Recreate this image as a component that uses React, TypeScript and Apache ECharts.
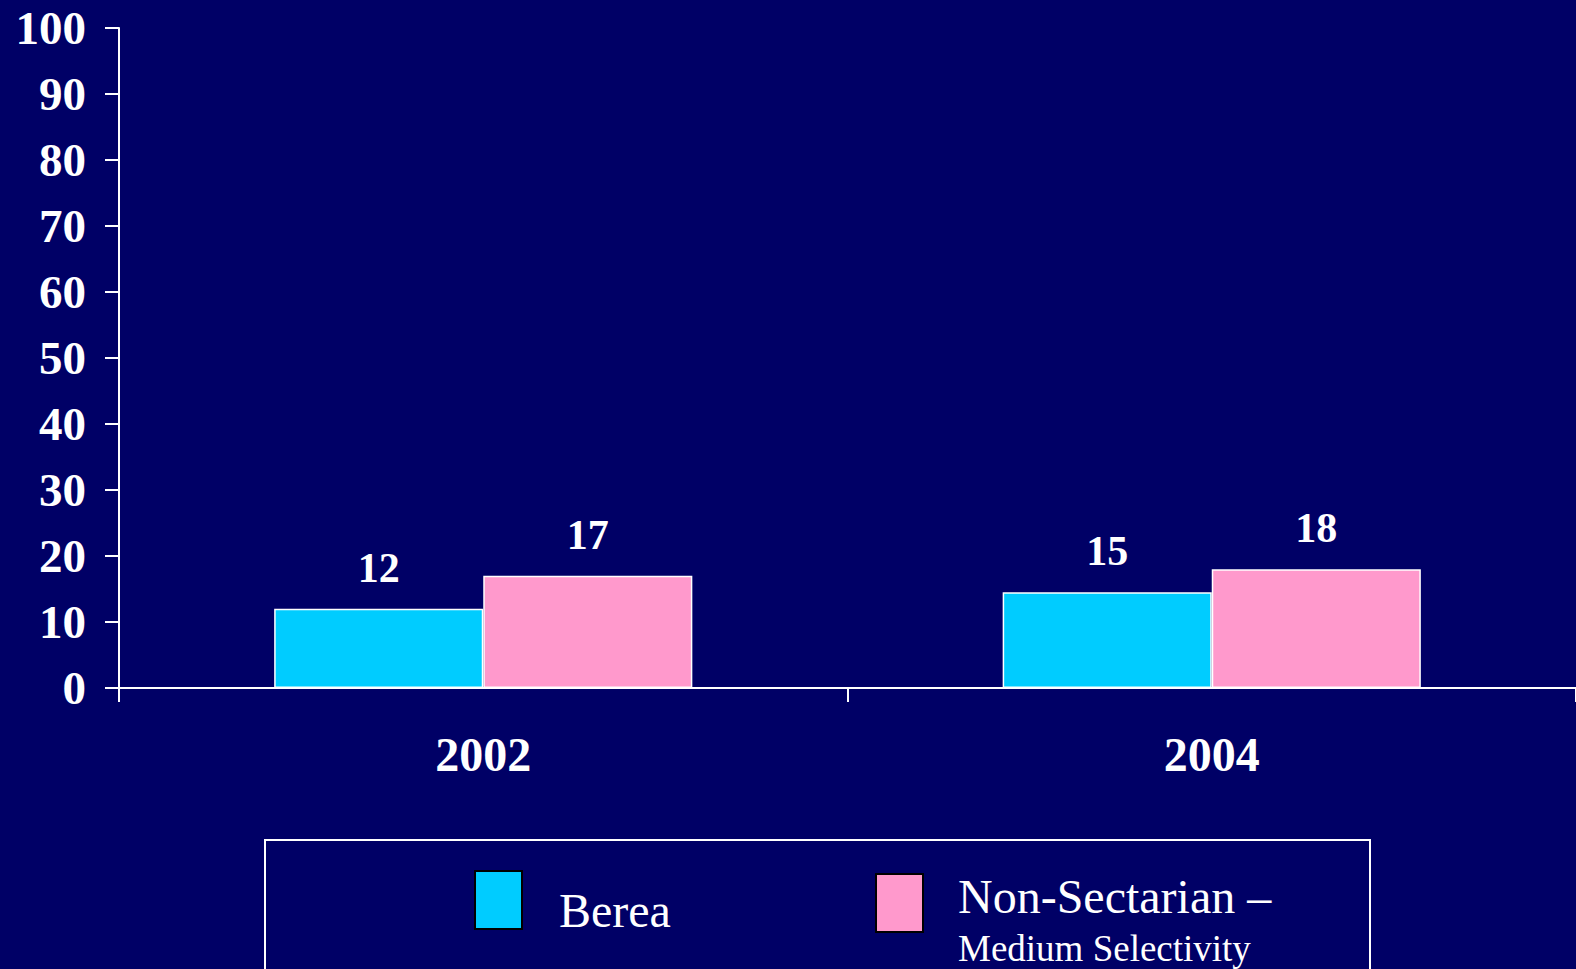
import React, { useEffect, useRef } from "react";
import * as echarts from "echarts";

const categories = ["2002", "2004"];
const bereaValues = [12, 14.5];
const nonSectarianValues = [17, 18];
const seriesNames = ["Berea", "Non-Sectarian – Medium Selectivity"];
const yTicks = { min: 0, max: 100, interval: 10 };

const BG = "#000066";
const CYAN = "#00CCFF";
const PINK = "#FF99CC";
const FONT = "'Liberation Serif', 'Times New Roman', serif";

export default function App() {
  const ref = useRef<HTMLDivElement>(null);
  useEffect(() => {
    document.body.style.margin = "0";
    const chart = echarts.init(ref.current!, null, { renderer: "svg" });
    const labelCfg = {
      show: true,
      position: "top",
      distance: 20,
      color: "#fff",
      fontFamily: FONT,
      fontWeight: "bold",
      fontSize: 42,
      formatter: (p: any) => String(Math.round(p.value)),
    };
    chart.setOption({
      animation: false,
      backgroundColor: BG,
      textStyle: { fontFamily: FONT },
      grid: { left: 119, top: 28, right: 0, bottom: 281, containLabel: false },
      xAxis: {
        type: "category",
        data: categories,
        axisLine: { lineStyle: { color: "#fff", width: 2 } },
        axisTick: { show: true, length: 14, lineStyle: { color: "#fff", width: 2 } },
        axisLabel: {
          color: "#fff",
          fontFamily: FONT,
          fontWeight: "bold",
          fontSize: 48,
          margin: 42,
        },
      },
      yAxis: {
        type: "value",
        min: yTicks.min,
        max: yTicks.max,
        interval: yTicks.interval,
        axisLine: { show: true, lineStyle: { color: "#fff", width: 2 } },
        axisTick: { show: true, length: 14, lineStyle: { color: "#fff", width: 2 } },
        splitLine: { show: false },
        axisLabel: {
          color: "#fff",
          fontFamily: FONT,
          fontWeight: "bold",
          fontSize: 47,
          margin: 33,
        },
      },
      legend: [
        {
          data: [seriesNames[0]],
          left: 474,
          top: 870,
          padding: 0,
          itemWidth: 47,
          itemHeight: 58,
          itemGap: 0,
          icon: "rect",
          itemStyle: { borderColor: "#000", borderWidth: 2 },
          formatter: () => "{a|Berea}",
          textStyle: {
            color: "#fff",
            fontFamily: FONT,
            padding: [20, 0, 0, 32],
            rich: {
              a: { fontSize: 48, color: "#fff", fontFamily: FONT, lineHeight: 56 },
            },
          },
        },
        {
          data: [seriesNames[1]],
          left: 875,
          top: 872,
          padding: 0,
          itemWidth: 47,
          itemHeight: 58,
          itemGap: 0,
          icon: "rect",
          itemStyle: { borderColor: "#000", borderWidth: 2 },
          formatter: () => "{a|Non-Sectarian –}\n{b|Medium Selectivity}",
          textStyle: {
            color: "#fff",
            fontFamily: FONT,
            padding: [38, 0, 0, 30],
            rich: {
              a: { fontSize: 48, color: "#fff", fontFamily: FONT, lineHeight: 52 },
              b: { fontSize: 37, color: "#fff", fontFamily: FONT, lineHeight: 52 },
            },
          },
        },
      ],
      graphic: [
        {
          type: "rect",
          shape: { x: 265, y: 840, width: 1105, height: 160 },
          style: { fill: "none", stroke: "#fff", lineWidth: 2 },
          silent: true,
        },
      ],
      series: [
        {
          name: seriesNames[0],
          type: "bar",
          data: bereaValues,
          barGap: "0%",
          barCategoryGap: "42.6%",
          itemStyle: { color: CYAN, borderColor: "#fff", borderWidth: 1.5 },
          label: labelCfg,
        },
        {
          name: seriesNames[1],
          type: "bar",
          data: nonSectarianValues,
          barGap: "0%",
          barCategoryGap: "42.6%",
          itemStyle: { color: PINK, borderColor: "#fff", borderWidth: 1.5 },
          label: labelCfg,
        },
      ],
    });
    return () => chart.dispose();
  }, []);
  return (
    <div
      ref={ref}
      style={{ position: "fixed", left: 0, top: 0, width: 1576, height: 969 }}
    />
  );
}
